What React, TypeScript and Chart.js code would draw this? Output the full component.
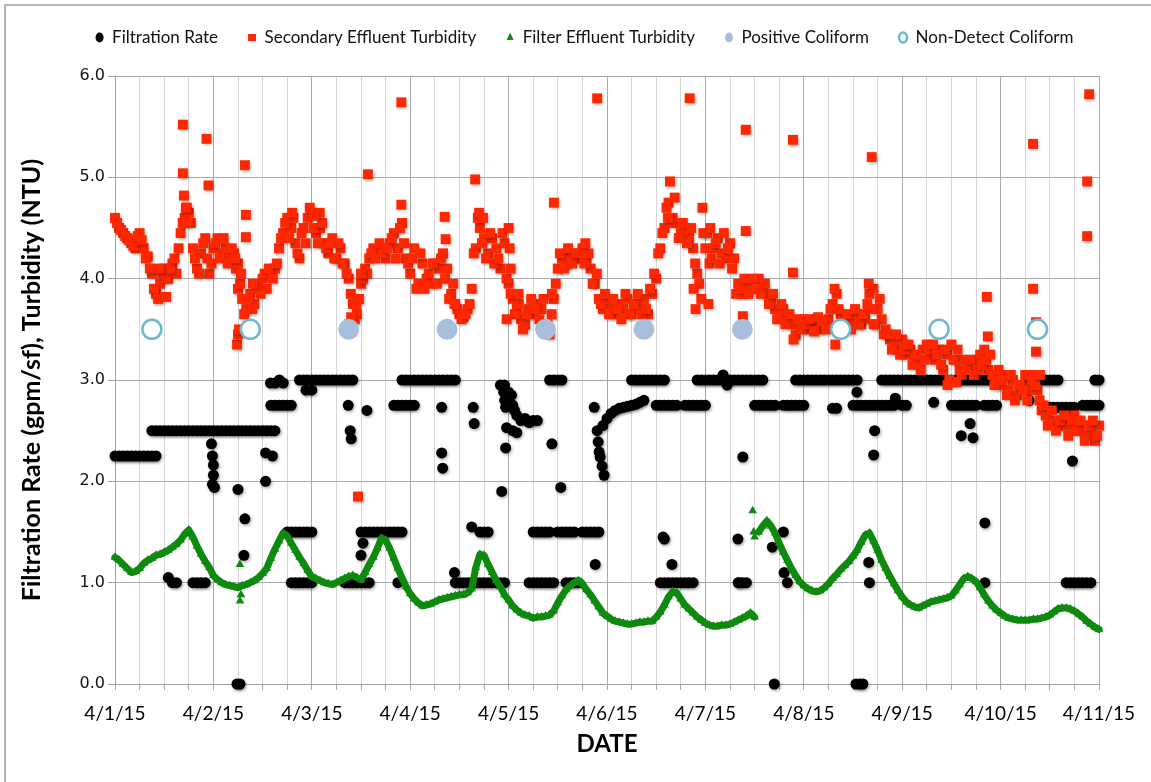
import React, { useEffect, useRef } from 'react';
import { Chart, registerables } from 'chart.js';

Chart.register(...registerables);

const _ = null;

// x axis: days since 4/1/15 00:00, hourly samples
const dateLabels = ['4/1/15', '4/2/15', '4/3/15', '4/4/15', '4/5/15', '4/6/15', '4/7/15', '4/8/15', '4/9/15', '4/10/15', '4/11/15'];

// Filtration rate (gpm/sf) - upper operating band, hourly
const rateTop: (number | null)[] = [
  2.25,2.25,2.25,2.25,2.25,2.25,2.25,2.25,2.25,2.25,2.25,2.5,2.5,2.5,2.5,2.5,2.5,2.5,2.5,2.5,2.5,2.5,2.5,2.5,
  2.5,2.5,2.5,2.5,2.5,2.5,2.5,2.5,2.5,2.5,2.5,2.5,2.5,2.5,2.5,2.5,_,_,_,_,_,3,3,3,
  3,3,3,3,3,3,3,3,3,3,3,_,_,_,_,_,_,_,_,_,_,_,3,3,
  3,3,3,3,3,3,3,3,3,3,3,3,_,_,_,_,_,_,_,_,_,_,2.95,2.95,
  2.88,2.75,2.65,2.6,2.62,2.58,2.6,2.6,_,_,3,3,3,3,_,_,_,_,_,_,_,_,_,2.55,
  _,_,_,_,_,_,3,3,3,3,3,3,3,3,3,_,_,_,_,_,_,_,3,3,
  3,3,3,3,3,3,3,3,3,3,3,3,3,3,3,_,_,_,_,_,_,_,3,3,
  3,3,3,3,3,3,3,3,3,3,3,3,3,3,_,_,_,_,_,3,3,3,3,3,
  3,3,3,3,3,3,3,3,3,3,3,3,3,3,3,3,3,3,3,3,3,3,3,3,
  3,_,_,_,_,_,_,3,3,3,3,3,3,3,3,_,_,_,_,_,_,_,_,3,
  3,
];

// Filtration rate - second concurrent upper band, hourly
const rateMid: (number | null)[] = [
  _,_,_,_,_,_,_,_,_,2.5,2.5,_,_,_,_,_,_,_,_,_,_,_,_,_,
  _,_,_,_,_,_,_,_,_,_,_,_,_,_,2.75,2.75,2.75,2.75,2.75,2.75,_,_,_,_,
  2.9,_,_,_,_,_,_,_,_,_,_,_,_,_,_,_,_,_,_,_,2.75,2.75,2.75,2.75,
  2.75,2.75,_,_,_,_,_,_,_,_,_,_,_,_,_,_,_,_,_,_,_,_,_,_,
  2.8,2.5,2.48,_,_,_,_,_,_,_,_,_,_,_,_,_,_,_,_,_,_,_,_,_,
  2.62,2.67,2.7,2.72,2.73,2.74,2.75,2.76,2.78,2.8,_,_,2.75,2.75,2.75,2.75,2.75,2.75,_,2.75,2.75,2.75,2.75,2.75,
  2.75,_,_,_,_,_,_,_,_,_,_,_,2.75,2.75,2.75,2.75,2.75,2.75,_,2.75,2.75,2.75,2.75,2.75,
  2.75,_,_,_,_,_,_,2.72,2.72,_,_,_,2.75,2.75,2.75,2.75,2.75,2.75,2.75,2.75,2.75,2.75,2.75,_,
  2.75,2.75,_,_,_,_,_,_,_,_,_,_,2.75,2.75,2.75,2.75,2.75,2.75,2.75,_,2.75,2.75,2.75,2.75,
  _,_,_,_,_,_,_,2.8,_,_,_,_,2.73,2.73,2.73,2.73,2.73,2.73,2.73,_,2.75,2.75,2.75,2.75,
  2.75,
];

// Filtration rate - low band near 1.0, hourly
const rateLow: (number | null)[] = [
  _,_,_,_,_,_,_,_,_,_,_,_,_,1.05,1,1,_,_,_,1,1,1,1,_,
  _,_,_,_,_,_,_,_,_,_,_,_,_,_,_,_,_,_,_,1,1,1,1,1,
  1,_,_,_,_,_,_,_,1,1,1,1,1,1,1,_,_,_,_,_,_,1,_,_,
  _,_,_,_,_,_,_,_,_,_,_,1,1,1,1,1,1,1,1,1,1,1,1,1,
  _,_,_,_,_,1,1,1,1,1,1,1,_,_,1,1,1,1,_,_,_,_,_,_,
  _,_,_,_,_,_,_,_,_,_,_,_,_,1,1,1,1,1,1,1,1,1,_,_,
  _,_,_,_,_,_,_,_,1,1,1,_,_,_,_,_,_,_,_,_,1,_,_,_,
  _,_,_,_,_,_,_,_,_,_,_,_,_,_,_,_,1,_,_,_,_,_,_,_,
  _,_,_,_,_,_,_,_,_,_,_,_,_,_,_,_,_,_,_,_,_,_,_,_,
  _,_,_,_,_,_,_,_,_,_,_,_,_,_,_,_,1,1,1,1,1,1,1,_,
];

// Filtration rate - band near 1.5, hourly
const rateLow2: (number | null)[] = [
  _,_,_,_,_,_,_,_,_,_,_,_,_,_,_,_,_,_,_,_,_,_,_,_,
  _,_,_,_,_,_,_,_,_,_,_,_,_,_,_,_,_,_,1.5,1.5,1.5,1.5,1.5,1.5,
  1.5,_,_,_,_,_,_,_,_,_,_,_,1.5,1.5,1.5,1.5,1.5,1.5,1.5,1.5,1.5,1.5,1.5,_,
  _,_,_,_,_,_,_,_,_,_,_,_,_,_,_,1.55,_,1.5,1.5,1.5,_,_,_,_,
  _,_,_,_,_,_,1.5,1.5,1.5,1.5,1.5,_,1.5,1.5,1.5,1.5,1.5,_,1.5,1.5,1.5,1.5,1.5,_,
  _,_,_,_,_,_,_,_,_,_,_,_,_,_,1.43,_,_,_,_,_,_,_,_,_,
  _,_,_,_,_,_,_,_,_,_,_,_,_,_,_,_,_,_,_,1.5,_,_,_,_,
];

// Filtration rate - isolated readings [day, value]
const rateScatter: [number, number][] = [
  [0.98,2.37],[0.99,2.25],[1.0,2.16],[1.0,2.06],[0.99,1.97],[1.01,1.94],[1.24,0],[1.27,0],[1.25,1.92],
  [1.32,1.63],[1.31,1.27],[1.53,2.28],[1.6,2.25],[1.53,2.0],[1.58,2.97],[1.63,2.97],[1.67,3.0],[1.71,2.97],
  [2.37,2.75],[2.56,2.7],[2.39,2.5],[2.4,2.42],[2.52,1.39],[2.5,1.27],[1.94,2.9],
  [3.32,2.73],[3.32,2.28],[3.33,2.13],[3.64,2.73],[3.65,2.57],[3.95,2.88],[3.96,2.8],[3.97,2.73],
  [3.98,2.53],[3.97,2.33],[3.93,1.9],[3.45,1.1],
  [4.44,2.37],[4.53,1.94],[4.87,2.73],[4.9,2.5],[4.91,2.39],[4.92,2.29],[4.93,2.24],[4.97,2.06],
  [4.95,2.15],[4.88,1.18],[4.03,2.85],[4.06,2.7],
  [5.66,1.18],[5.57,1.45],
  [6.38,2.24],[6.18,3.05],[6.22,2.95],[6.33,1.43],[6.68,1.35],[6.8,1.1],[6.7,0],[6.34,1.0],
  [7.54,2.88],[7.72,2.5],[7.71,2.26],[7.53,0],[7.57,0],[7.6,0],[7.66,1.2],
  [7.93,2.82],[8.32,2.78],[8.69,2.57],[8.6,2.45],[8.72,2.43],[8.84,1.59],[8.84,1.0],
  [9.73,2.2],
];

// Secondary effluent turbidity (NTU), on the hour
const secondaryTurbidity: number[] = [
  4.6,4.5,4.45,4.4,4.35,4.3,4.45,4.3,4.22,4.05,3.85,3.95,4.1,4.0,4.15,4.05,4.45,4.6,4.65,4.3,4.1,4.25,4.4,4.05,
  4.3,4.4,4.25,4.3,4.22,4.25,3.9,3.8,3.7,3.85,3.75,3.95,4.0,3.9,4.05,4.1,4.3,4.45,4.6,4.5,4.35,4.2,4.5,4.6,
  4.65,4.45,4.5,4.35,4.25,4.4,4.2,4.3,4.15,4.0,3.75,3.65,3.95,4.1,4.2,4.3,4.25,4.3,4.2,4.35,4.45,4.3,4.55,4.2,
  4.05,4.3,3.95,4.15,4.0,3.95,4.15,4.1,4.25,4.1,3.85,3.75,3.65,3.62,3.7,3.9,4.3,4.5,4.4,4.25,4.4,4.3,4.1,4.35,
  3.95,3.8,3.7,3.6,3.55,3.7,3.65,3.75,3.7,3.5,3.45,3.8,4.1,4.2,4.15,4.25,4.2,4.2,4.3,4.2,4.1,3.95,3.8,3.7,
  3.8,3.7,3.65,3.75,3.7,3.8,3.65,3.75,3.7,3.8,3.65,3.85,4.0,4.3,4.5,4.75,4.6,4.55,4.45,4.5,4.4,4.3,4.05,3.8,
  4.3,4.15,4.3,4.4,4.25,4.2,4.35,4.2,3.95,3.85,3.95,3.9,3.95,4.0,3.9,3.85,3.8,3.7,3.65,3.7,3.6,3.55,3.45,3.55,
  3.6,3.5,3.55,3.6,3.5,3.55,3.6,3.75,3.85,3.65,3.6,3.55,3.6,3.65,3.55,3.6,3.85,3.9,3.7,3.6,3.5,3.4,3.35,3.3,
  3.4,3.25,3.3,3.2,3.15,3.3,3.35,3.25,3.2,3.3,3.1,3.25,3.35,3.2,3.1,3.2,3.15,3.15,3.2,3.25,3.3,3.1,3.05,3.0,
  2.95,3.05,2.9,3.0,2.85,2.95,3.05,2.9,3.05,2.9,2.7,2.65,2.6,2.58,2.55,2.6,2.55,2.55,2.65,2.5,2.55,2.45,2.5,2.4,
  2.55,
];

// Secondary effluent turbidity (NTU), on the half hour
const secondaryTurbidityHalf: number[] = [
  4.55,4.48,4.42,4.38,4.32,4.42,4.38,4.2,4.1,3.9,3.8,4.05,4.0,4.1,4.2,4.3,4.55,4.7,4.55,4.2,4.05,4.35,4.2,4.15,
  4.35,4.2,4.4,4.15,4.3,4.1,3.95,3.65,3.8,3.7,3.9,3.85,4.05,4.1,4.0,4.15,4.4,4.55,4.4,4.6,4.25,4.45,4.35,4.7,
  4.5,4.35,4.55,4.3,4.35,4.2,4.35,4.15,4.05,3.85,3.6,3.8,4.0,4.05,4.25,4.2,4.35,4.25,4.3,4.4,4.2,4.5,4.35,4.15,
  4.2,3.9,4.25,3.9,4.05,4.15,3.95,4.2,4.0,3.8,3.95,3.7,3.6,3.65,3.75,4.25,4.6,4.35,4.2,4.45,4.15,4.2,4.45,4.0,
  3.85,3.65,3.75,3.5,3.65,3.8,3.7,3.6,3.8,3.55,3.65,3.95,4.25,4.1,4.3,4.15,4.25,4.25,4.15,4.25,3.95,4.05,3.75,3.85,
  3.65,3.8,3.7,3.6,3.85,3.65,3.75,3.85,3.65,3.7,3.9,4.05,4.25,4.45,4.7,4.55,4.8,4.4,4.55,4.35,4.5,4.15,3.95,4.45,
  4.45,4.2,4.35,4.15,4.45,4.3,4.1,3.85,3.9,4.0,3.85,4.0,3.9,3.85,3.95,3.75,3.85,3.6,3.75,3.55,3.65,3.4,3.6,3.5,
  3.55,3.6,3.48,3.62,3.58,3.5,3.7,3.9,3.7,3.55,3.65,3.5,3.7,3.55,3.65,3.75,3.7,3.55,3.8,3.45,3.45,3.3,3.45,3.25,
  3.3,3.35,3.15,3.25,3.1,3.2,3.3,3.35,3.25,3.15,3.3,3.0,3.2,3.3,3.05,3.1,3.2,3.05,3.1,3.15,3.2,3.25,2.95,3.1,
  3.0,2.85,3.05,2.8,2.95,2.9,2.8,3.0,2.95,2.8,2.75,2.55,2.7,2.5,2.6,2.65,2.45,2.6,2.5,2.6,2.4,2.55,2.6,2.45,
];

// Secondary effluent turbidity - spikes and extra readings [day, value]
const secondaryScatter: [number, number][] = [
  [0.69,5.52],[0.69,5.04],[0.7,4.82],[0.93,5.38],[0.95,4.92],[0.72,4.7],[0.74,4.55],[0.52,3.82],[0.45,4.1],
  [1.24,3.35],[1.25,3.45],[1.26,3.5],[1.25,4.15],[1.22,4.2],[1.28,4.05],[1.32,5.12],[1.33,4.63],[1.33,4.41],
  [1.4,3.95],[1.8,4.65],
  [2.38,3.55],[2.4,3.62],[2.45,3.75],[2.47,1.85],[2.57,5.03],[2.91,5.74],[2.91,4.73],[2.08,4.65],[2.02,4.62],[2.5,4.05],
  [3.35,4.61],[3.36,4.39],[3.66,4.98],[3.7,4.65],[3.74,4.6],[3.98,3.6],[3.45,3.75],
  [4.46,4.75],[4.0,4.5],[4.01,4.3],[4.44,3.85],[4.78,4.35],[4.9,5.78],[4.02,4.1],[4.1,3.85],
  [5.64,4.96],[5.84,5.78],[5.62,4.6],[5.9,3.7],[5.88,3.9],
  [6.41,5.47],[6.41,4.47],[6.38,3.63],[6.89,5.37],[6.89,4.06],[6.05,4.5],[6.03,3.75],[5.97,4.7],
  [7.32,3.35],[7.69,5.2],[7.66,3.95],[7.71,3.55],
  [8.46,2.95],[8.55,2.98],[8.86,3.82],[8.87,3.43],
  [9.33,5.33],[9.33,3.9],[9.36,3.57],[9.36,3.28],[9.9,5.82],[9.88,4.96],[9.88,4.42],[9.4,3.05],
];

// Filter effluent turbidity (NTU), hourly
const filterTurbidity: number[] = [
  1.25,1.22,1.18,1.14,1.10,1.11,1.14,1.19,1.22,1.24,1.27,1.28,1.30,1.32,1.35,1.38,1.42,1.48,1.52,1.45,1.36,1.28,1.21,1.15,
  1.07,1.03,1.00,0.98,0.97,0.96,0.95,0.97,0.98,1.00,1.02,1.05,1.09,1.14,1.24,1.33,1.41,1.49,1.46,1.39,1.32,1.25,1.19,1.12,
  1.06,1.04,1.02,1.00,0.99,0.98,1.00,1.02,1.04,1.06,1.07,1.05,1.03,1.10,1.18,1.25,1.34,1.44,1.42,1.34,1.24,1.14,1.05,0.96,
  0.89,0.84,0.80,0.77,0.78,0.79,0.81,0.83,0.84,0.85,0.86,0.87,0.88,0.88,0.90,0.94,1.15,1.28,1.27,1.18,1.10,1.02,0.96,0.88,
  0.83,0.77,0.73,0.70,0.68,0.67,0.65,0.66,0.66,0.67,0.68,0.72,0.80,0.87,0.93,0.97,1.00,1.02,0.99,0.93,0.88,0.82,0.76,0.70,
  0.67,0.64,0.62,0.61,0.60,0.59,0.59,0.60,0.61,0.61,0.62,0.62,0.66,0.71,0.78,0.86,0.91,0.90,0.84,0.78,0.74,0.70,0.66,0.63,
  0.60,0.58,0.57,0.57,0.58,0.58,0.59,0.61,0.63,0.65,0.67,0.70,0.66,1.50,1.56,1.61,1.56,1.49,1.39,1.30,1.22,1.14,1.07,1.01,
  0.97,0.94,0.92,0.91,0.92,0.95,0.99,1.04,1.08,1.13,1.17,1.21,1.26,1.32,1.40,1.47,1.49,1.41,1.32,1.22,1.14,1.06,0.99,0.92,
  0.86,0.81,0.78,0.76,0.75,0.77,0.79,0.81,0.82,0.83,0.84,0.85,0.87,0.92,0.98,1.04,1.06,1.04,1.01,0.95,0.88,0.82,0.77,0.73,
  0.70,0.67,0.65,0.64,0.63,0.63,0.63,0.63,0.64,0.64,0.65,0.66,0.68,0.71,0.74,0.75,0.75,0.74,0.72,0.69,0.66,0.62,0.59,0.56,
  0.54,
];

// Filter effluent turbidity - isolated readings [day, value]
const filterScatter: [number, number][] = [
  [1.27,1.18],[1.28,0.88],[1.27,0.82],[6.48,1.71],[6.49,1.5],[6.5,1.45],
];

// Coliform samples (plotted at 3.5)
const positiveColiformDays = [2.375, 3.375, 4.375, 5.375, 6.375];
const positiveColiformValues = [3.5, 3.5, 3.5, 3.5, 3.5];
const nonDetectColiformDays = [0.375, 1.375, 7.375, 8.375, 9.375];
const nonDetectColiformValues = [3.5, 3.5, 3.5, 3.5, 3.5];

const HOURS_PER_DAY = 24;

type Pt = { x: number; y: number };
const fromHourly = (arr: (number | null)[], offsetHours = 0): Pt[] => {
  const out: Pt[] = [];
  arr.forEach((v, i) => {
    if (v !== null && v !== undefined) out.push({ x: (i + offsetHours) / HOURS_PER_DAY, y: v });
  });
  return out;
};
const fromPairs = (arr: [number, number][]): Pt[] => arr.map(([x, y]) => ({ x, y }));
const fromXY = (xs: number[], ys: number[]): Pt[] => xs.map((x, i) => ({ x, y: ys[i] }));

const isWhole = (v: number) => Math.abs(v - Math.round(v)) < 1e-6;

const LATO = 'Lato, "Open Sans", sans-serif';
const GREEN = '#0e8a0e';

const tweaks = {
  id: 'tweaks',
  beforeLayout(chart: any) {
    const lg = chart.legend;
    if (lg && !lg.__patched) {
      const orig = lg.fit.bind(lg);
      lg.fit = () => {
        lg.maxWidth = 1400;
        orig();
        lg.height = 77;
      };
      lg.__patched = true;
    }
  },
  afterLayout(chart: any) {
    const lg = chart.legend;
    if (lg) {
      lg.left = 40;
      lg.right = 1129;
    }
  },
  beforeDatasetDraw(chart: any, args: any) {
    if (args.index <= 1) {
      const ctx = chart.ctx;
      ctx.save();
      ctx.shadowColor = 'rgba(0,0,0,0.35)';
      ctx.shadowBlur = 3;
      ctx.shadowOffsetX = 1;
      ctx.shadowOffsetY = 1.5;
    }
  },
  afterDatasetDraw(chart: any, args: any) {
    if (args.index <= 1) chart.ctx.restore();
  },
};

export default function App() {
  const ref = useRef<HTMLCanvasElement>(null);

  useEffect(() => {
    if (!ref.current) return;
    const filtrationPoints = [
      ...fromHourly(rateTop),
      ...fromHourly(rateMid),
      ...fromHourly(rateLow),
      ...fromHourly(rateLow2),
      ...fromPairs(rateScatter),
    ];
    const secondaryPoints = [
      ...fromHourly(secondaryTurbidity),
      ...fromHourly(secondaryTurbidityHalf, 0.5),
      ...fromPairs(secondaryScatter),
    ];
    const filterPoints = [...fromHourly(filterTurbidity), ...fromPairs(filterScatter)];
    const filterHourlyCount = filterTurbidity.length;

    const chart = new Chart(ref.current, {
      type: 'scatter',
      data: {
        datasets: [
          {
            label: 'Filtration Rate',
            data: filtrationPoints,
            pointStyle: 'circle',
            pointRadius: 5.5,
            pointBackgroundColor: '#000000',
            pointBorderColor: '#000000',
            pointBorderWidth: 0,
            order: 5,
            clip: false,
          },
          {
            label: 'Secondary Effluent Turbidity',
            data: secondaryPoints,
            pointStyle: 'rect',
            pointRadius: 7,
            pointBackgroundColor: '#ff2600',
            pointBorderColor: '#ff2600',
            pointBorderWidth: 0,
            order: 4,
            clip: false,
          },
          {
            label: 'Filter Effluent Turbidity',
            data: filterPoints,
            showLine: true,
            borderColor: GREEN,
            borderWidth: 7,
            borderJoinStyle: 'round',
            borderCapStyle: 'round',
            segment: {
              borderColor: (c: any) =>
                c.p1DataIndex >= filterHourlyCount || Math.abs(c.p1.parsed.y - c.p0.parsed.y) > 0.4
                  ? 'rgba(0,0,0,0)'
                  : undefined,
            },
            pointStyle: 'triangle',
            pointRadius: 5,
            pointBackgroundColor: GREEN,
            pointBorderColor: GREEN,
            pointBorderWidth: 0,
            order: 3,
            clip: false,
          },
          {
            label: 'Positive Coliform',
            data: fromXY(positiveColiformDays, positiveColiformValues),
            pointStyle: 'circle',
            pointRadius: 10.5,
            pointBackgroundColor: '#a7bedc',
            pointBorderColor: '#a7bedc',
            pointBorderWidth: 0,
            order: 2,
            clip: false,
          },
          {
            label: 'Non-Detect Coliform',
            data: fromXY(nonDetectColiformDays, nonDetectColiformValues),
            pointStyle: 'circle',
            pointRadius: 9.5,
            pointBackgroundColor: '#ffffff',
            pointBorderColor: '#6cb8d0',
            pointBorderWidth: 2.5,
            order: 1,
            clip: false,
          },
        ],
      },
      options: {
        responsive: false,
        animation: false,
        devicePixelRatio: 1,
        layout: { padding: { left: 0, top: -1, right: 52, bottom: 0 } },
        plugins: {
          tooltip: { enabled: false },
          legend: {
            position: 'top',
            labels: {
              usePointStyle: true,
              boxHeight: 7,
              pointStyleWidth: 8,
              padding: 30,
              color: '#111',
              font: { family: LATO, size: 17 },
              sort: (a: any, b: any) => a.datasetIndex - b.datasetIndex,
            },
          },
        },
        scales: {
          x: {
            type: 'linear',
            min: 0,
            max: 10,
            afterFit: (s: any) => {
              s.height = 98;
            },
            ticks: {
              stepSize: 0.25,
              autoSkip: false,
              maxRotation: 0,
              minRotation: 0,
              padding: 12,
              color: '#000',
              font: { family: LATO, size: 19 },
              callback: (v: any) => (isWhole(Number(v)) ? dateLabels[Math.round(Number(v))] : ''),
            },
            grid: {
              color: (c: any) => (c.tick && isWhole(c.tick.value) ? '#a9a9a9' : '#d6d6d6'),
              tickColor: '#a9a9a9',
              lineWidth: 1,
              tickLength: 6,
            },
            border: { color: '#a0a0a0', width: 1 },
            title: {
              display: true,
              text: 'DATE',
              color: '#000',
              font: { family: LATO, size: 24, weight: 'bold' },
              padding: { top: 0, bottom: 23 },
            },
          },
          y: {
            min: 0,
            max: 6,
            afterFit: (s: any) => {
              s.width = 115;
            },
            ticks: {
              stepSize: 1,
              color: '#111',
              padding: 3,
              font: { family: '"DejaVu Sans", Verdana, sans-serif', size: 16 },
              callback: (v: any) => Number(v).toFixed(1),
            },
            grid: {
              color: '#a9a9a9',
              tickColor: '#a0a0a0',
              lineWidth: 1,
              tickLength: 7,
            },
            border: { color: '#a0a0a0', width: 1 },
            title: {
              display: true,
              text: 'Filtration Rate (gpm/sf), Turbidity (NTU)',
              color: '#000',
              font: { family: LATO, size: 25, weight: 'bold' },
              padding: { top: 17, bottom: 0 },
            },
          },
        },
      },
      plugins: [tweaks],
    } as any);
    return () => chart.destroy();
  }, []);

  return (
    <div
      style={{
        position: 'fixed',
        left: 0,
        top: 0,
        width: 1151,
        height: 782,
        overflow: 'hidden',
        background: '#ffffff',
      }}
    >
      <div
        style={{
          position: 'absolute',
          left: 4,
          top: 4,
          width: 1200,
          height: 900,
          borderLeft: '2px solid #b3b3b3',
          borderTop: '2px solid #b3b3b3',
        }}
      />
      <canvas
        ref={ref}
        width={1151}
        height={782}
        style={{ position: 'absolute', left: 0, top: 0, width: 1151, height: 782 }}
      />
    </div>
  );
}
